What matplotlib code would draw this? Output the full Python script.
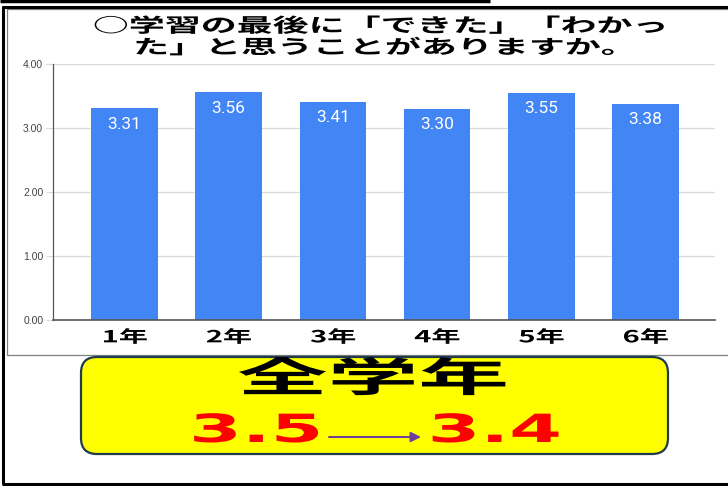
import matplotlib
matplotlib.use("Agg")
import matplotlib.pyplot as plt
from matplotlib.patches import FancyBboxPatch, Rectangle
from matplotlib.patheffects import AbstractPathEffect
from matplotlib.transforms import Affine2D

plt.rcParams['font.family'] = ['Noto Sans CJK JP', 'DejaVu Sans']

######### data ############
grades = ['1年', '2年', '3年', '4年', '5年', '6年']
scores = [3.31, 3.56, 3.41, 3.30, 3.55, 3.38]
y_ticks = [0, 1, 2, 3, 4]
title_lines = ['○学習の最後に「できた」「わかっ', 'た」と思うことがありますか。']
summary_title = '全学年'
summary_before = '3.5'
summary_after = '3.4'
###########################

W, H = 728, 486
BLUE = '#4285f4'


class Stretch(AbstractPathEffect):
    """widen the glyphs horizontally around the middle of the line"""
    def __init__(self, sx):
        super().__init__()
        self.sx = sx

    def draw_path(self, renderer, gc, tpath, affine, rgbFace=None):
        v = tpath.vertices
        cx = (v[:, 0].min() + v[:, 0].max()) / 2 if len(v) else 0
        st = Affine2D().translate(-cx, 0).scale(self.sx, 1).translate(cx, 0)
        renderer.draw_path(gc, tpath, st + affine, rgbFace)


fig = plt.figure(figsize=(W / 100, H / 100), dpi=100)

# overlay in pixel coordinates for frames, title and the yellow box
ov = fig.add_axes([0, 0, 1, 1], zorder=0)
ov.set_xlim(0, W)
ov.set_ylim(H, 0)
ov.axis('off')

# outer black frame (no right edge) and the stray line at the top
ov.plot([0, 490], [1.5, 1.5], color='black', lw=2.5, solid_capstyle='butt')
ov.plot([2, W], [7, 7], color='black', lw=2.2, solid_capstyle='butt')
ov.plot([2.5, 2.5], [6, H - 2], color='black', lw=2.2, solid_capstyle='butt')
ov.plot([2, W], [484, 484], color='black', lw=2.2, solid_capstyle='butt')
# chart panel border
ov.add_patch(Rectangle((7, 9.5), W, 345.5, fill=False, edgecolor='#808080', lw=0.9))

for i, line in enumerate(title_lines):
    ov.text(380, 26.5 + i * 21.5, line, ha='center', va='center', fontsize=14,
            fontweight='bold', color='black', path_effects=[Stretch(1.85)])

# yellow summary box
ov.add_patch(FancyBboxPatch((81, 357), 587, 97,
                            boxstyle='round,pad=0,rounding_size=16',
                            facecolor='#ffff00', edgecolor='#1f3a4d', lw=1.6))
ov.text(372, 380, summary_title, ha='center', va='center', fontsize=29,
        fontweight='bold', color='black', path_effects=[Stretch(2.25)])
ov.text(255, 431, summary_before, ha='center', va='center', fontsize=28,
        fontweight='bold', color='#ff0000', family='DejaVu Sans',
        path_effects=[Stretch(1.95)])
ov.text(494, 431, summary_after, ha='center', va='center', fontsize=28,
        fontweight='bold', color='#ff0000', family='DejaVu Sans',
        path_effects=[Stretch(1.95)])
ov.annotate('', xy=(421, 437), xytext=(329, 437),
            arrowprops=dict(arrowstyle='-|>', color='#6a3d9a', lw=1.4,
                            mutation_scale=15, shrinkA=0, shrinkB=0))

# bar chart
ax = fig.add_axes([53 / W, (H - 320) / H, 662 / W, 256 / H], zorder=1)
ax.patch.set_alpha(0)
x = range(len(grades))
bars = ax.bar(x, scores, width=0.64, color=BLUE, zorder=2)
ax.bar_label(bars, labels=[f'{v:.2f}' for v in scores], padding=-17,
             color='white', fontsize=12.5, family='Roboto')

ax.set_ylim(0, 4)
ax.set_xlim(-0.686, 5.667)
ax.set_yticks(y_ticks)
ax.set_yticklabels([f'{t:.2f}' for t in y_ticks], family='Liberation Sans',
                   fontsize=7.5, color='#444444')
ax.grid(axis='y', color='#d9d9d9', lw=0.9, zorder=0)
ax.tick_params(axis='y', length=5, color='#d9d9d9', pad=2)
ax.set_xticks(list(x))
ax.set_xticklabels(grades, fontsize=12, fontweight='bold')
ax.tick_params(axis='x', length=0, pad=6)
for lab in ax.get_xticklabels():
    lab.set_path_effects([Stretch(1.75)])
for s in ['top', 'right']:
    ax.spines[s].set_visible(False)
ax.spines['left'].set_color('#555555')
ax.spines['left'].set_linewidth(0.9)
ax.spines['bottom'].set_color('#555555')
ax.spines['bottom'].set_linewidth(1.2)

fig.savefig('out.png', dpi=100)
